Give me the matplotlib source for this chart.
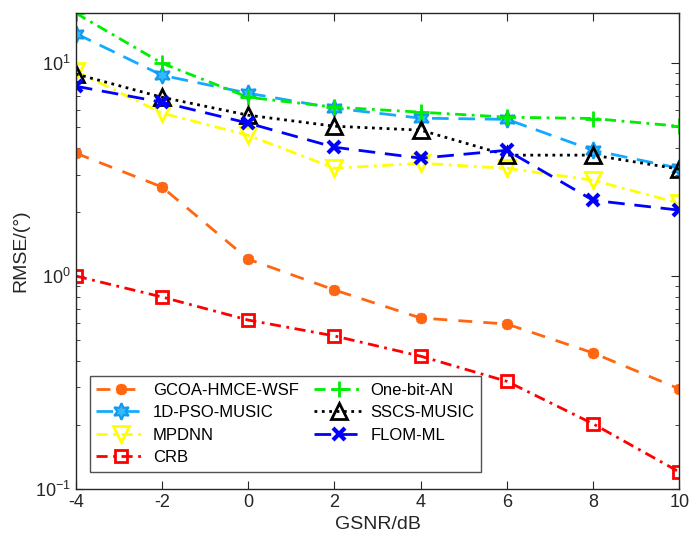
import numpy as np
import matplotlib.pyplot as plt
from matplotlib.ticker import LogLocator, NullFormatter

plt.rcParams['font.family'] = ['Liberation Sans', 'DejaVu Sans']
plt.rcParams['mathtext.fontset'] = 'custom'
plt.rcParams['mathtext.rm'] = 'Liberation Sans'
plt.rcParams['mathtext.it'] = 'Liberation Sans:italic'

gsnr = [-4, -2, 0, 2, 4, 6, 8, 10]

gcoa = [3.78, 2.62, 1.20, 0.86, 0.635, 0.595, 0.435, 0.295]
pso = [13.8, 8.78, 7.23, 6.15, 5.52, 5.45, 3.9, 3.21]
mpdnn = [9.17, 5.83, 4.59, 3.21, 3.39, 3.21, 2.82, 2.2]
crb = [1.0, 0.797, 0.621, 0.523, 0.42, 0.32, 0.202, 0.12]
onebit = [17.2, 10.0, 6.92, 6.22, 5.89, 5.58, 5.5, 5.06]
sscs = [8.9, 6.92, 5.7, 5.06, 4.85, 3.7, 3.7, 3.18]
flom = [7.8, 6.56, 5.23, 4.03, 3.58, 3.9, 2.27, 2.04]

fig = plt.figure(figsize=(6.96, 5.48), dpi=100)
ax = fig.add_axes([0.109, 0.108, 0.867, 0.868])

ax.plot(gsnr, gcoa, ls=(0, (5, 4)), color='#ff6611', lw=2, marker=(8, 2, 0),
        ms=8, mew=2.5, label='GCOA-HMCE-WSF')
ax.plot(gsnr, pso, ls=(0, (6, 3.5)), color='#14aaff', lw=2, marker=(6, 1, 0),
        ms=12, mfc='#33bbff', mec='#1199ee', mew=1.5, label='1D-PSO-MUSIC')
ax.plot(gsnr, mpdnn, ls=(0, (4, 2, 1, 2)), color='#ffff00', lw=2, marker='v',
        ms=12, mfc='none', mew=2, label='MPDNN')
ax.plot(gsnr, crb, ls=(0, (4, 2, 1, 2)), color='#ff0000', lw=2, marker='s',
        ms=9, mfc='none', mew=2, label='CRB')
ax.plot(gsnr, onebit, ls=(0, (4, 2, 1, 2)), color='#00ee00', lw=2, marker='+',
        ms=11, mew=2, label='One-bit-AN')
ax.plot(gsnr, sscs, ls=':', color='black', lw=2, marker='^',
        ms=11, mfc='none', mew=2, label='SSCS-MUSIC')
ax.plot(gsnr, flom, ls=(0, (6, 3.5)), color='#0000ff', lw=2, marker='x',
        ms=8, mew=3, label='FLOM-ML')

ax.set_yscale('log')
ax.set_xlim(-4, 10)
ax.set_ylim(0.1, 17.2)
ax.set_xticks(gsnr)
ax.set_xticklabels([str(v) for v in gsnr])
ax.yaxis.set_major_locator(LogLocator(base=10, numticks=10))
ax.yaxis.set_minor_locator(LogLocator(base=10, subs=np.arange(2, 10), numticks=20))
ax.yaxis.set_minor_formatter(NullFormatter())
ax.tick_params(which='both', direction='in', top=True, right=True, labelsize=13,
               colors='#262626')
ax.tick_params(which='major', length=6)
ax.tick_params(which='minor', length=3)
for s in ax.spines.values():
    s.set_color('#262626')
    s.set_linewidth(1)

ax.set_xlabel('GSNR/dB', fontsize=14, color='#262626')
ax.set_ylabel('RMSE/(°)', fontsize=14, color='#262626')

leg = ax.legend(loc='lower left', bbox_to_anchor=(0.023, 0.036), borderaxespad=0,
                ncol=2, fontsize=12, frameon=True, fancybox=False,
                edgecolor='#262626', handlelength=3, columnspacing=0.9,
                handletextpad=0.4, labelspacing=0.45)
leg.get_frame().set_linewidth(1)

fig.savefig('out.png', dpi=100)
